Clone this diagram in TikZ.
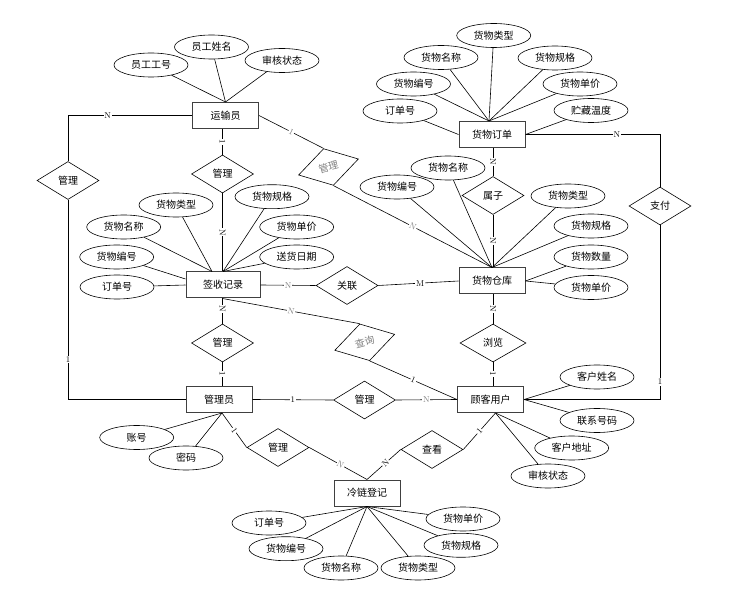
\documentclass[tikz,border=0pt]{standalone}
\usepackage{fontspec}
\newfontfamily\cjk{Noto Sans CJK SC}
\usetikzlibrary{shapes.geometric}

\begin{document}
\begin{tikzpicture}[x=1pt, y=-1pt,
  every node/.style={font=\cjk\fontsize{10}{12}\selectfont},
  entity/.style={draw=black!75, line width=1pt, minimum width=66pt, minimum height=26pt, inner sep=0pt},
  attr/.style={ellipse, draw, line width=0.6pt, minimum width=74pt, minimum height=24pt, inner sep=0pt},
  rel/.style={diamond, draw, line width=0.6pt, aspect=1.6, minimum width=62pt, minimum height=38pt, inner sep=0pt},
  card/.style={font=\fontsize{8.5}{9}\selectfont, fill=white, inner sep=0.8pt},
  link/.style={line width=0.6pt}]
  \useasboundingbox (0,0) rectangle (732,599);

  % entities
  \node[entity] (ys) at (225.5,115.5) {运输员};
  \node[entity] (dd) at (492,134.5) {货物订单};
  \node[entity, minimum width=74pt] (qs) at (223,285) {签收记录};
  \node[entity] (ck) at (492,281) {货物仓库};
  \node[entity] (gly) at (219,399.5) {管理员};
  \node[entity] (gk) at (490.5,399.5) {顾客用户};
  \node[entity] (ll) at (367,493) {冷链登记};
  \coordinate (glyb) at ([xshift=3pt]gly.south);
  \coordinate (gkb) at ([xshift=5pt]gk.south);

  % relations
  \node[rel] (mgl) at (68,180.5) {管理};
  \node[rel] (mg1) at (222.5,174) {管理};
  \node[rel, rotate=15, text=gray] (mg2) at (328.5,167) {管理};
  \node[rel] (sz) at (493,195.5) {属子};
  \node[rel] (zf) at (660,206) {支付};
  \node[rel] (gl) at (347,285.5) {关联};
  \node[rel] (mg3) at (222.5,343) {管理};
  \node[rel, rotate=15, text=gray] (cx) at (364.7,342.3) {查询};
  \node[rel, minimum width=66pt] (lv) at (493,343) {浏览};
  \node[rel] (mg4) at (364.5,400) {管理};
  \node[rel] (mg5) at (278,447.5) {管理};
  \node[rel] (ckn) at (432,449.5) {查看};

  % attributes
  \node[attr] (ygh) at (151,65) {员工工号};
  \node[attr] (yxm) at (211.5,47) {员工姓名};
  \node[attr] (yzt) at (282,60.5) {审核状态};

  \node[attr] (dlx) at (493.7,35.5) {货物类型};
  \node[attr] (dmc) at (441,57.5) {货物名称};
  \node[attr] (dgg) at (555,58) {货物规格};
  \node[attr] (dbh) at (413.5,84) {货物编号};
  \node[attr] (ddj) at (580,84) {货物单价};
  \node[attr] (ddh) at (400,111) {订单号};
  \node[attr] (dwd) at (591,110.5) {贮藏温度};

  \node[attr] (qlx) at (176,205) {货物类型};
  \node[attr] (qgg) at (272,196.7) {货物规格};
  \node[attr] (qmc) at (123.7,227) {货物名称};
  \node[attr] (qdj) at (296.7,227) {货物单价};
  \node[attr] (qbh) at (116.7,257) {货物编号};
  \node[attr] (qrq) at (296.7,257) {送货日期};
  \node[attr] (qdh) at (117,287) {订单号};

  \node[attr] (cmc) at (448,168) {货物名称};
  \node[attr] (cbh) at (397,187) {货物编号};
  \node[attr] (clx) at (568,196) {货物类型};
  \node[attr] (cgg) at (591,226) {货物规格};
  \node[attr] (csl) at (591,257) {货物数量};
  \node[attr] (cdj) at (591,287.5) {货物单价};

  \node[attr] (kxm) at (597,377) {客户姓名};
  \node[attr] (khm) at (597,420.5) {联系号码};
  \node[attr] (kdz) at (571.7,448) {客户地址};
  \node[attr] (kzt) at (548,476) {审核状态};

  \node[attr] (gzh) at (136.7,437.5) {账号};
  \node[attr] (gmm) at (186,458) {密码};

  \node[attr] (ldh) at (269,523) {订单号};
  \node[attr] (lbh) at (286,548.7) {货物编号};
  \node[attr] (lmc) at (341,568) {货物名称};
  \node[attr] (llx) at (418,568) {货物类型};
  \node[attr] (lgg) at (461,545.3) {货物规格};
  \node[attr] (ldj) at (463,519) {货物单价};

  % attribute lines
  \foreach \a in {ygh,yxm,yzt} \draw[link] (\a) -- (ys.north);
  \foreach \a in {dlx,dmc,dgg,dbh,ddj} \draw[link] (\a) -- ([xshift=-3pt]dd.north);
  \draw[link] (ddh) -- (dd.west);
  \draw[link] (dwd) -- (dd.east);
  \foreach \a in {qlx,qmc} \draw[link] (\a) -- ([xshift=-11pt]qs.north);
  \foreach \a in {qgg,qdj,qrq} \draw[link] (\a) -- (qs.north);
  \draw[link] (qbh) -- ([yshift=6pt]qs.west);
  \draw[link] (qdh) -- (qs.west);
  \foreach \a in {cmc,cbh,clx,cgg} \draw[link] (\a) -- (ck.north);
  \foreach \a in {csl,cdj} \draw[link] (\a) -- (ck.east);
  \foreach \a in {kxm,khm} \draw[link] (\a) -- (gk.east);
  \foreach \a in {kdz,kzt} \draw[link] (\a) -- (gkb);
  \foreach \a in {gzh,gmm} \draw[link] (\a) -- (glyb);
  \foreach \a in {ldh,lbh,lmc,llx,lgg,ldj} \draw[link] (\a) -- (ll.south);

  % relation lines
  \draw[link] (ys.west) -| node[card, pos=0.34] {N} (mgl.north);
  \draw[link] (mgl.south) |- node[card, pos=0.4] {1} (gly.west);

  \draw[link] (mg1.north |- ys.south) -- node[card, sloped] {1} (mg1.north);
  \draw[link] (mg1.south) -- node[card, sloped] {N} (mg1.south |- qs.north);

  \draw[link] (ys.east) -- node[card, sloped, text=gray] {1} (mg2.north);
  \draw[link] (mg2.south) -- node[card, sloped, text=gray] {N} (ck.north);

  \draw[link] (sz.north |- dd.south) -- node[card, sloped] {N} (sz.north);
  \draw[link] (sz.south) -- node[card, sloped] {N} (sz.south |- ck.north);

  \draw[link] (dd.east) -| node[card, pos=0.34] {N} (zf.north);
  \draw[link] (zf.south) |- node[card, pos=0.45] {1} (gk.east);

  \draw[link] (qs.east) -- node[card, text=gray] {N} (gl.west);
  \draw[link] (gl.east) -- node[card, pos=0.52] {M} (ck.west);

  \draw[link] (mg3.north |- qs.south) -- node[card, sloped, pos=0.4] {N} (mg3.north);
  \draw[link] (mg3.south) -- node[card, sloped] {1} (mg3.south |- gly.north);

  \draw[link] (mg3.north |- qs.south) -- node[card, sloped, text=gray] {N} (cx.north);
  \draw[link] (cx.south) -- node[card, sloped] {1} (gk.west);

  \draw[link] (lv.north |- ck.south) -- node[card, sloped] {N} (lv.north);
  \draw[link] (lv.south) -- node[card, sloped] {1} (lv.south |- gk.north);

  \draw[link] (gly.east) -- node[card] {1} (mg4.west);
  \draw[link] (mg4.east) -- node[card, text=gray] {N} (gk.west);

  \draw[link] (glyb) -- node[card, sloped] {1} (mg5.west);
  \draw[link] (mg5.east) -- node[card, sloped, pos=0.54, text=gray] {N} (ll.north);

  \draw[link] (ll.north) -- node[card, sloped, pos=0.55] {N} (ckn.west);
  \draw[link] (ckn.east) -- node[card, sloped] {1} (gkb);
\end{tikzpicture}
\end{document}
